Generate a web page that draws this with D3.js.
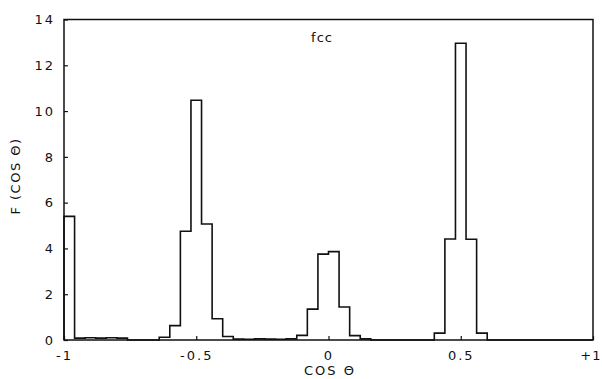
<!DOCTYPE html>
<html>
<head>
<meta charset="utf-8">
<script src="https://cdn.jsdelivr.net/npm/d3@7"></script>
<style>
  body { margin: 0; background: #fff; }
  svg { display: block; }
  text { font-family: "DejaVu Sans", sans-serif; fill: #111; }
</style>
</head>
<body>
<svg id="chart"></svg>
<script>
// Histogram of cos(theta) for fcc, bins of 0.04 from -1 to +1
const binWidth = 0.04;
const binValues = [
  5.4, 0.08, 0.1, 0.08, 0.1, 0.08, 0, 0, 0, 0.12,
  0.63, 4.75, 10.47, 5.07, 0.93, 0.15, 0.04, 0.03, 0.05, 0.04,
  0.03, 0.05, 0.2, 1.35, 3.75, 3.86, 1.44, 0.19, 0.05, 0,
  0, 0, 0, 0, 0, 0.3, 4.41, 12.96, 4.4, 0.3,
  0, 0, 0, 0, 0, 0, 0, 0, 0, 0
];
const xTicks = [-1, -0.5, 0, 0.5, 1];
const xTickLabels = ["-1", "-0.5", "0", "0.5", "+1"];
const yTicks = [0, 2, 4, 6, 8, 10, 12, 14];

const width = 602;
const height = 379;
const margin = { top: 19.5, right: 9, bottom: 39, left: 64 };

const svg = d3.select("#chart").attr("width", width).attr("height", height);

const x = d3.scaleLinear().domain([-1, 1]).range([margin.left, width - margin.right]);
const y = d3.scaleLinear().domain([0, 14]).range([height - margin.bottom, margin.top]);

// frame
svg.append("rect")
  .attr("x", x(-1))
  .attr("y", y(14))
  .attr("width", x(1) - x(-1))
  .attr("height", y(0) - y(14))
  .attr("fill", "none")
  .attr("stroke", "#111")
  .attr("stroke-width", 1.5);

// y axis, ticks pointing inward
const yAxis = svg.append("g")
  .attr("transform", `translate(${x(-1)},0)`)
  .call(d3.axisLeft(y).tickValues(yTicks).tickFormat(d3.format("d"))
    .tickSizeInner(-4).tickSizeOuter(0).tickPadding(9));
yAxis.select(".domain").remove();
yAxis.selectAll("line").attr("stroke", "#111").attr("stroke-width", 1.2);
yAxis.selectAll("text")
  .attr("font-size", 13)
  .attr("letter-spacing", 2)
  .attr("font-family", "DejaVu Sans, sans-serif")
  .attr("fill", "#111");

// x axis, ticks pointing inward
const xAxis = svg.append("g")
  .attr("transform", `translate(0,${y(0)})`)
  .call(d3.axisBottom(x).tickValues(xTicks).tickFormat((d, i) => xTickLabels[i])
    .tickSizeInner(-4).tickSizeOuter(0).tickPadding(11));
xAxis.select(".domain").remove();
xAxis.selectAll("line").attr("stroke", "#111").attr("stroke-width", 1.2);
xAxis.selectAll("text")
  .attr("font-size", 13)
  .attr("letter-spacing", 2)
  .attr("font-family", "DejaVu Sans, sans-serif")
  .attr("fill", "#111");
// keep "+1" inside the window
xAxis.selectAll(".tick")
  .filter((d) => d === 1)
  .select("text")
  .attr("text-anchor", "end")
  .attr("letter-spacing", 1)
  .attr("x", 8);

// step outline of histogram
const points = [{ x: -1, v: 0 }];
binValues.forEach((v, i) => points.push({ x: -1 + i * binWidth, v: v }));
points.push({ x: 1, v: binValues[binValues.length - 1] });
points.push({ x: 1, v: 0 });

const line = d3.line()
  .x((d) => x(d.x))
  .y((d) => y(d.v))
  .curve(d3.curveStepAfter);

svg.append("path")
  .datum(points)
  .attr("d", line)
  .attr("fill", "none")
  .attr("stroke", "#111")
  .attr("stroke-width", 1.6)
  .attr("stroke-linejoin", "miter");

// title inside plot
svg.append("text")
  .attr("x", 322)
  .attr("y", 42)
  .attr("text-anchor", "middle")
  .attr("font-size", 13)
  .attr("letter-spacing", 1)
  .text("fcc");

// axis titles
svg.append("text")
  .attr("x", 330)
  .attr("y", 375)
  .attr("text-anchor", "middle")
  .attr("font-size", 13)
  .attr("letter-spacing", 2)
  .text("COS Θ");

svg.append("text")
  .attr("transform", "translate(20,176) rotate(-90)")
  .attr("text-anchor", "middle")
  .attr("font-size", 13)
  .attr("letter-spacing", 1.5)
  .text("F (COS Θ)");
</script>
</body>
</html>
